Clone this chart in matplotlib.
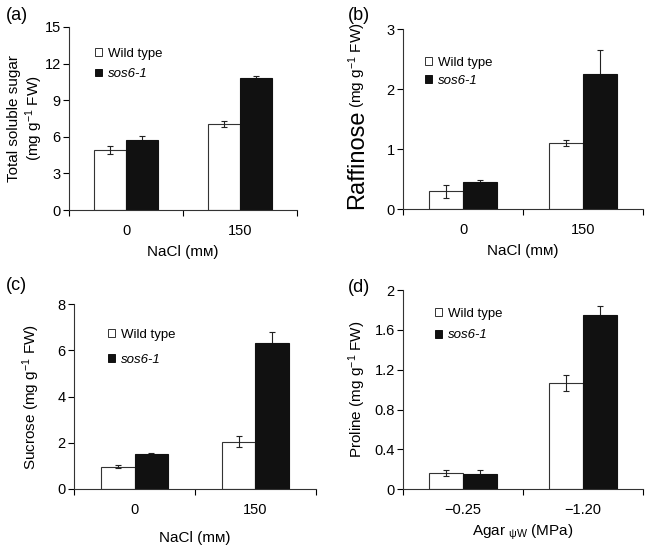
import numpy as np
import matplotlib
matplotlib.use("Agg")
import matplotlib.pyplot as plt

plt.rcParams['font.family'] = ['Liberation Sans', 'DejaVu Sans']
plt.rcParams['mathtext.fontset'] = 'custom'
plt.rcParams['mathtext.rm'] = 'Liberation Sans'
plt.rcParams['mathtext.it'] = 'Liberation Sans:italic'

# data
salt_labels = ['0', '150']
agar_labels = ['\u22120.25', '\u22121.20']

sugar_wt = [4.9, 7.05]
sugar_wt_err = [0.35, 0.25]
sugar_mut = [5.75, 10.8]
sugar_mut_err = [0.3, 0.18]

raff_wt = [0.3, 1.1]
raff_wt_err = [0.11, 0.05]
raff_mut = [0.46, 2.25]
raff_mut_err = [0.03, 0.4]

sucr_wt = [0.97, 2.05]
sucr_wt_err = [0.05, 0.25]
sucr_mut = [1.5, 6.33]
sucr_mut_err = [0.07, 0.48]

prol_wt = [0.16, 1.07]
prol_wt_err = [0.03, 0.08]
prol_mut = [0.15, 1.745]
prol_mut_err = [0.04, 0.09]

W, H = 654, 546
fig = plt.figure(figsize=(W / 100, H / 100), dpi=100)

def px(x, y):
    # pixel position in the picture -> figure fraction
    return (x / W, 1 - y / H)

def panel(rect, wt, wt_err, mut, mut_err, ticks, ymax, step, ylabel, xlabel,
          letter_xy, letter, leg_xy, leg_sp, xlab_pad=5, ylab_x=None,
          tick_fmt='%g'):
    ax = fig.add_axes(rect)
    x = np.arange(len(wt))
    w = 0.28
    ax.bar(x - w/2, wt, w, color='white', edgecolor='#333333', linewidth=0.8,
           label='Wild type', zorder=2)
    ax.bar(x + w/2, mut, w, color='#111111', edgecolor='#111111', linewidth=0.8,
           label='sos6-1', zorder=2)
    ax.errorbar(x - w/2, wt, yerr=wt_err, fmt='none', ecolor='#222222',
                elinewidth=0.8, capsize=2.5, capthick=0.8, zorder=3)
    ax.errorbar(x + w/2, mut, yerr=mut_err, fmt='none', ecolor='#222222',
                elinewidth=0.8, capsize=2.5, capthick=0.8, zorder=1)
    ax.set_xlim(-0.5, len(wt) - 0.5)
    ax.set_ylim(0, ymax)
    yt = np.arange(0, ymax + step/2, step)
    ax.set_yticks(yt)
    ax.set_yticklabels([tick_fmt % v for v in yt])
    ax.set_xticks([-0.5, 0.5, 1.5])
    ax.set_xticklabels([])
    ax.set_xticks(x, minor=True)
    ax.set_xticklabels(ticks, minor=True)
    ax.tick_params(axis='x', which='major', length=4, width=0.8, direction='out')
    ax.tick_params(axis='x', which='minor', length=0, pad=10, labelsize=10.5)
    ax.tick_params(axis='y', length=4, width=0.8, direction='out', labelsize=10.5, pad=2)
    for s in ['top', 'right']:
        ax.spines[s].set_visible(False)
    for s in ['left', 'bottom']:
        ax.spines[s].set_linewidth(0.8)
        ax.spines[s].set_color('#333333')
    ax.set_xlabel(xlabel, fontsize=11, labelpad=xlab_pad)
    if ylabel:
        ax.set_ylabel(ylabel, fontsize=11, linespacing=1.15)
        if ylab_x is not None:
            ax.yaxis.set_label_coords(ylab_x, 0.5)
    fig.text(*px(*letter_xy), letter, fontsize=13, va='center', ha='left')
    leg = ax.legend(loc='upper left', bbox_to_anchor=px(*leg_xy),
                    bbox_transform=fig.transFigure, frameon=False, fontsize=9.5,
                    handlelength=0.55, handleheight=0.55, handletextpad=0.4,
                    labelspacing=leg_sp, borderaxespad=0, borderpad=0)
    leg.get_texts()[1].set_style('italic')
    for h in leg.legend_handles:
        h.set_linewidth(0.7)
    return ax

salt_x = 'NaCl (m\u1d0d)'
panel([69 / W, 1 - 210 / H, 228 / W, 183 / H], sugar_wt, sugar_wt_err, sugar_mut,
      sugar_mut_err, salt_labels, 15, 3, 'Total soluble sugar\n(mg g$^{-1}$ FW)', salt_x,
      (6, 15), '(a)', (95, 48), 0.62, ylab_x=-0.105)
axb = panel([403 / W, 1 - 209.3 / H, 240 / W, 180 / H], raff_wt, raff_wt_err, raff_mut,
            raff_mut_err, salt_labels, 3, 1, '', salt_x, (348, 15), '(b)', (425, 57), 0.45)
axb.text(-0.19, 0.28, 'Raffinose', transform=axb.transAxes, rotation=90, fontsize=17,
         ha='center', va='center')
axb.text(-0.19, 0.8, '(mg g$^{-1}$ FW)', transform=axb.transAxes, rotation=90,
         fontsize=11, ha='center', va='center')
panel([74 / W, 1 - 489 / H, 242 / W, 184.7 / H], sucr_wt, sucr_wt_err, sucr_mut,
      sucr_mut_err, salt_labels, 8, 2, 'Sucrose (mg g$^{-1}$ FW)', salt_x,
      (6, 285), '(c)', (108, 329), 0.95, xlab_pad=10, ylab_x=-0.132)
ax_d = panel([403 / W, 1 - 489.3 / H, 240 / W, 199.3 / H], prol_wt, prol_wt_err, prol_mut,
             prol_mut_err, agar_labels, 2, 0.4, 'Proline (mg g$^{-1}$ FW)',
             'Agar $_{\\mathrm{\u03c8W}}$ (MPa)', (348, 287), '(d)', (435, 308), 0.7,
             xlab_pad=4, ylab_x=-0.146)

# proline axis shows "0" and "2" without decimals
ax_d.set_yticklabels(['0', '0.4', '0.8', '1.2', '1.6', '2'])

fig.savefig('out.png', dpi=100)
